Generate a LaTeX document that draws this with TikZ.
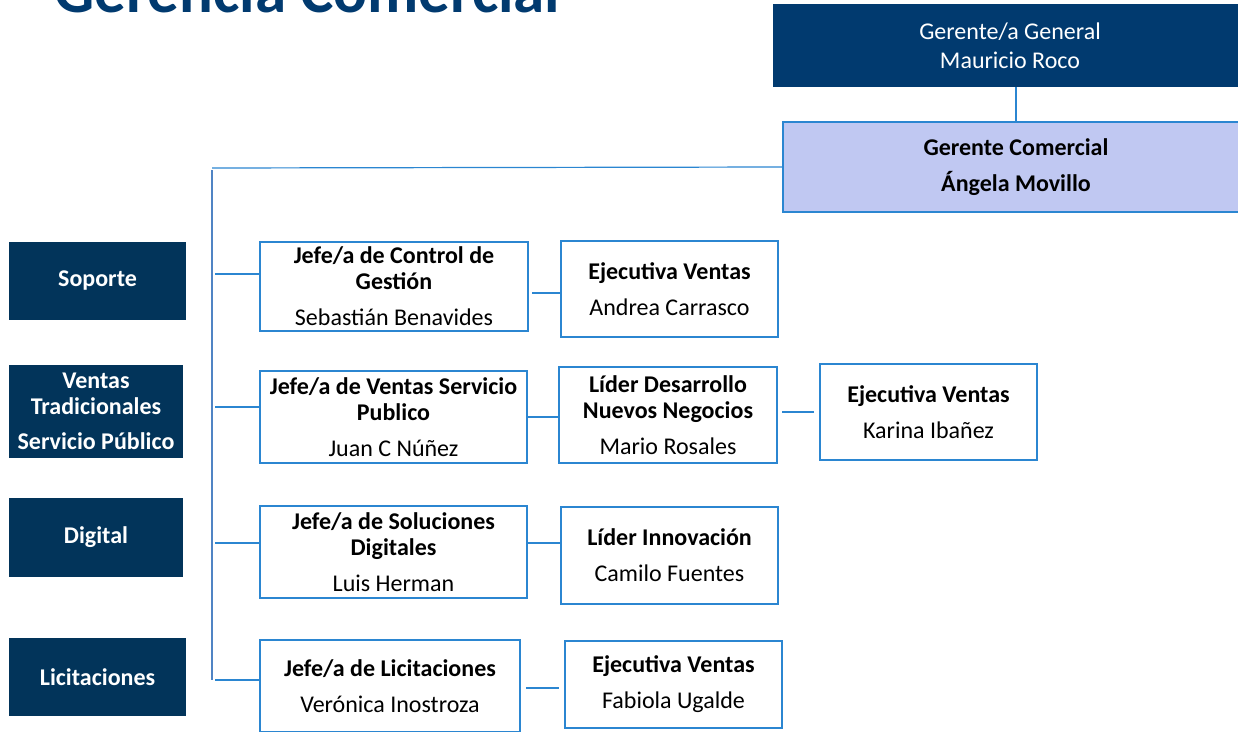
\documentclass[tikz,border=0pt]{standalone}
\usepackage{fontspec}
\setmainfont{Carlito}
\usetikzlibrary{positioning}
\definecolor{navy}{HTML}{02345A}
\definecolor{topblue}{HTML}{013A6F}
\definecolor{lavender}{HTML}{C0C8F2}
\definecolor{lineblue}{HTML}{2B86D1}
\definecolor{trunkblue}{HTML}{5084C4}
\begin{document}
\begin{tikzpicture}[x=1pt,y=-1pt,
	area/.style={fill=navy,text=white,align=center,inner sep=0pt,font=\fontsize{24}{26}\selectfont\bfseries},
	post/.style={draw=lineblue,line width=1.8pt,fill=white,align=center,inner sep=0pt,font=\fontsize{24}{26}\selectfont},
	lnk/.style={lineblue,line width=1.8pt}]
	\useasboundingbox (0,0) rectangle (1238,731);
	\clip (0,0) rectangle (1238,731);
	
	\node[anchor=base west,inner sep=0pt,text=topblue,font=\fontsize{63}{66}\selectfont\bfseries] (tit) at (54,12) {Gerencia Comercial};
	
	\node[fill=topblue,text=white,align=center,inner sep=0pt,minimum width=474,minimum height=83,font=\fontsize{24}{29}\selectfont] (gg) at (1010,45.5) {Gerente/a General\\Mauricio Roco};
	\node[post,fill=lavender,minimum width=466,minimum height=90] (com) at (1016,167) {\textbf{Gerente Comercial}\\[10pt]\textbf{Ángela Movillo}};
	
	\node[area,minimum width=177,minimum height=78] (sop) at (97.5,281) {Soporte};
	\node[area,minimum width=174,minimum height=93] (vts) at (96,411.5) {Ventas\\Tradicionales\\[9pt]Servicio Público};
	\node[area,minimum width=174,minimum height=79] (dig) at (96,537.5) {Digital};
	\node[area,minimum width=177,minimum height=78] (lic) at (97.5,677) {Licitaciones};
	
	\node[post,minimum width=268,minimum height=89] (jcg) at (394,286.5) {\textbf{Jefe/a de Control de}\\\textbf{Gestión}\\[10pt]Sebastián Benavides};
	\node[post,minimum width=267,minimum height=92] (jvs) at (393.5,417) {\textbf{Jefe/a de Ventas Servicio}\\\textbf{Publico}\\[10pt]Juan C Núñez};
	\node[post,minimum width=267,minimum height=92] (jsd) at (393.5,552) {\textbf{Jefe/a de Soluciones}\\\textbf{Digitales}\\[10pt]Luis Herman};
	\node[post,minimum width=260,minimum height=92] (jlc) at (390,686) {\textbf{Jefe/a de Licitaciones}\\[10pt]Verónica Inostroza};
	
	\node[post,minimum width=217,minimum height=96] (eac) at (669.5,289) {\textbf{Ejecutiva Ventas}\\[10pt]Andrea Carrasco};
	\node[post,minimum width=218,minimum height=96] (ldn) at (668,415) {\textbf{Líder Desarrollo}\\\textbf{Nuevos Negocios}\\[10pt]Mario Rosales};
	\node[post,minimum width=217,minimum height=97] (lin) at (669.5,555.5) {\textbf{Líder Innovación}\\[10pt]Camilo Fuentes};
	\node[post,minimum width=217,minimum height=87] (efu) at (673.5,684.5) {\textbf{Ejecutiva Ventas}\\[10pt]Fabiola Ugalde};
	\node[post,minimum width=217,minimum height=96] (eki) at (928.5,412) {\textbf{Ejecutiva Ventas}\\[10pt]Karina Ibañez};
	
	\coordinate (tr) at (212,168);
	\coordinate (tb) at (212,680);
	\draw[lnk] (com.north) -- (com.north |- gg.south);
	\draw[lnk,line width=1.2pt] (com.west) -- (tr);
	\draw[trunkblue,line width=1.8pt] (tr) ++(0,2) -- (tb);
	
	\draw[lnk] ([yshift=12.5pt]jcg.west) -- ++(-44,0);
	\draw[lnk] ([yshift=10pt]jvs.west) -- ++(-44,0);
	\draw[lnk] ([yshift=9pt]jsd.west) -- ++(-44,0);
	\draw[lnk] ([yshift=6pt]jlc.west) -- ++(-44,0);
	
	\draw[lnk] ([yshift=-4pt]eac.west) -- ++(-28,0);
	\draw[lnk] (jvs.east) -- (jvs.east -| ldn.west);
	\draw[lnk] ([xshift=-5pt]eki.west) -- ++(-32,0);
	\draw[lnk] ([yshift=9pt]jsd.east) -- ++(34,0);
	\draw[lnk] ([xshift=5pt,yshift=-2pt]jlc.east) -- ++(33,0);
\end{tikzpicture}
\end{document}
